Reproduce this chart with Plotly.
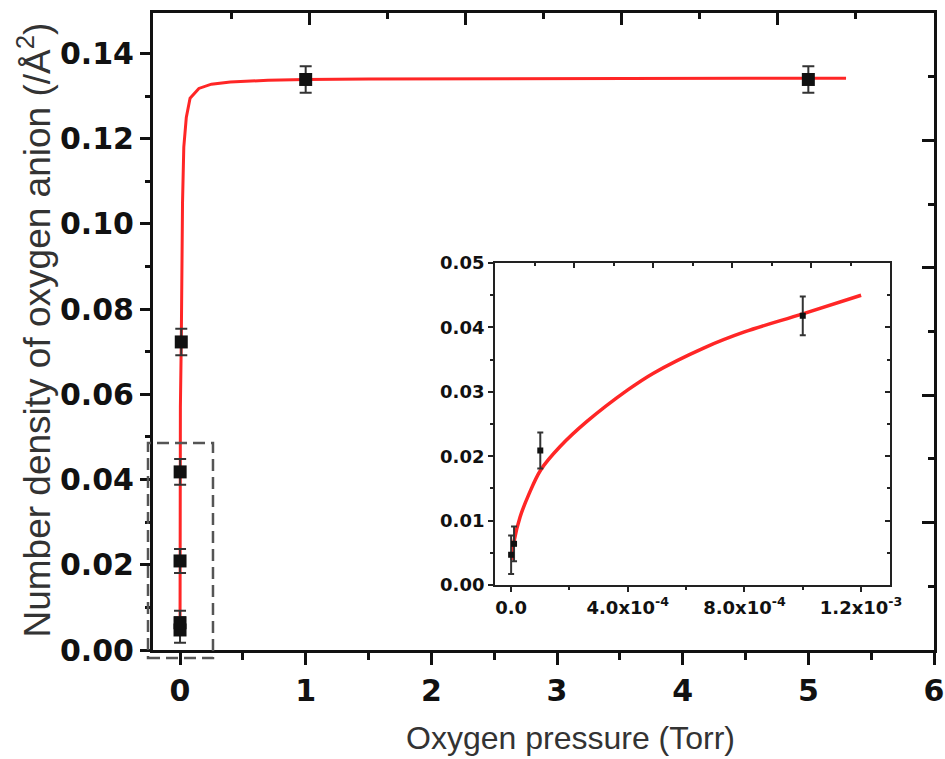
import plotly.graph_objects as go

# ---------------- data ----------------
pressure = [0.0, 1e-5, 1e-4, 1e-3, 1e-2, 1.0, 5.0]
density = [0.0047, 0.0064, 0.0209, 0.0418, 0.0723, 0.1339, 0.1339]
density_err = [0.003, 0.0028, 0.0028, 0.003, 0.0031, 0.0031, 0.0031]

# inset data (low-pressure part)
inset_pressure = [0.0, 1e-5, 1e-4, 1e-3]
inset_density = [0.0047, 0.0064, 0.0209, 0.0418]
inset_err = [0.003, 0.0027, 0.0028, 0.003]

# fitted curve
fit_x_main = [0.0, 1e-4, 1e-3, 3e-3, 0.01, 0.015, 0.02, 0.03, 0.05, 0.08, 0.15,
              0.25, 0.4, 0.7, 1.0, 1.5, 2.5, 3.5, 4.5, 5.3]
fit_y_main = [0.0039, 0.0179, 0.0421, 0.057, 0.0723, 0.092, 0.105, 0.118, 0.125,
              0.1295, 0.1318, 0.1328, 0.1333, 0.1337, 0.1339, 0.134, 0.1341,
              0.1342, 0.1342, 0.1342]

fit_x_inset = [2e-6, 1e-5, 3.1e-5, 6e-5, 1.02e-4, 1.68e-4, 2.6e-4, 4.0e-4, 4.88e-4,
               6.6e-4, 8.0e-4, 1.0e-3, 1.2e-3]
fit_y_inset = [0.0039, 0.0068, 0.0106, 0.0140, 0.0179, 0.0215, 0.0254, 0.0303,
               0.0329, 0.0368, 0.0393, 0.0421, 0.0450]

main_x_ticks = [0, 1, 2, 3, 4, 5, 6]
inset_x_tickvals = [0.0, 4e-4, 8e-4, 1.2e-3]
inset_x_ticktext = ["0.0", "4.0x10<sup>-4</sup>", "8.0x10<sup>-4</sup>", "1.2x10<sup>-3</sup>"]

x_title = "Oxygen pressure (Torr)"
y_title = "Number density of oxygen anion (/Å<sup>2</sup>)"

# ---------------- figure ----------------
RED = "#ff2626"
BLACK = "#111111"
ERR = "#333333"
INS = "#222222"

fig = go.Figure()

# main plot
fig.add_trace(go.Scatter(x=fit_x_main, y=fit_y_main, mode="lines",
                         line=dict(color=RED, width=3), showlegend=False,
                         xaxis="x", yaxis="y"))
fig.add_trace(go.Scatter(x=pressure, y=density, mode="markers",
                         marker=dict(symbol="square", size=13, color=BLACK),
                         error_y=dict(type="data", array=density_err, visible=True,
                                      color=ERR, thickness=2, width=6),
                         showlegend=False, xaxis="x", yaxis="y"))

# dummy trace for top/right mirrored axes of main plot
fig.add_trace(go.Scatter(x=[], y=[], xaxis="x2", yaxis="y2", showlegend=False))

# inset
fig.add_trace(go.Scatter(x=fit_x_inset, y=fit_y_inset, mode="lines",
                         line=dict(color=RED, width=3.5, shape="spline", smoothing=1),
                         showlegend=False, xaxis="x3", yaxis="y3"))
fig.add_trace(go.Scatter(x=inset_pressure, y=inset_density, mode="markers",
                         marker=dict(symbol="square", size=6, color=BLACK),
                         error_y=dict(type="data", array=inset_err, visible=True,
                                      color=ERR, thickness=2, width=3),
                         showlegend=False, xaxis="x3", yaxis="y3"))
fig.add_trace(go.Scatter(x=[], y=[], xaxis="x4", yaxis="y4", showlegend=False))

main_tick_font = dict(family="DejaVu Sans", size=30, color=BLACK, weight="bold")
inset_tick_font = dict(family="DejaVu Sans", size=18, color=BLACK, weight="bold")

inset_dom_x = [0.438, 0.944]
inset_dom_y = [0.102, 0.6075]

common = dict(showgrid=False, zeroline=False, automargin=False)

fig.update_layout(
    width=945, height=759,
    margin=dict(l=153, r=11, t=13, b=109),
    paper_bgcolor="white", plot_bgcolor="white",
    showlegend=False,
    xaxis=dict(domain=[0, 1], range=[-0.215, 6], tickvals=main_x_ticks,
               ticks="outside", ticklen=12, tickwidth=2.5, tickcolor=BLACK,
               showline=True, linewidth=3, linecolor=BLACK,
               tickfont=main_tick_font, ticklabelstandoff=0,
               minor=dict(dtick=0.5, tick0=0, ticks="outside", ticklen=7,
                          tickwidth=2.5, tickcolor=BLACK, showgrid=False), **common),
    yaxis=dict(domain=[0, 1], range=[0, 0.1495], dtick=0.02, tick0=0, tickformat=".2f",
               ticks="outside", ticklen=10, tickwidth=2.5, tickcolor=BLACK,
               showline=True, linewidth=3, linecolor=BLACK,
               tickfont=main_tick_font,
               minor=dict(dtick=0.01, tick0=0, ticks="outside", ticklen=5,
                          tickwidth=2.5, tickcolor=BLACK, showgrid=False), **common),
    xaxis2=dict(overlaying="x", side="top", anchor="y2", range=[0, 5], dtick=1, tick0=0,
                ticks="inside", ticklen=12, tickwidth=2.5, tickcolor=BLACK,
                showline=True, linewidth=3, linecolor=BLACK, showticklabels=False,
                minor=dict(dtick=0.5, tick0=0, ticks="inside", ticklen=6,
                           tickwidth=2.5, tickcolor=BLACK, showgrid=False), **common),
    yaxis2=dict(overlaying="y", side="right", anchor="x2", range=[0, 5], dtick=1, tick0=0,
                ticks="inside", ticklen=12, tickwidth=2.5, tickcolor=BLACK,
                showline=True, linewidth=3, linecolor=BLACK, showticklabels=False,
                minor=dict(dtick=0.5, tick0=0, ticks="inside", ticklen=6,
                           tickwidth=2.5, tickcolor=BLACK, showgrid=False), **common),
    xaxis3=dict(domain=inset_dom_x, anchor="y3", range=[-0.55e-4, 1.3e-3],
                tickvals=inset_x_tickvals, ticktext=inset_x_ticktext,
                ticks="outside", ticklen=5, tickwidth=2, tickcolor=INS,
                showline=True, linewidth=2, linecolor=INS,
                tickfont=inset_tick_font,
                minor=dict(dtick=2e-4, tick0=0, ticks="outside", ticklen=3,
                           tickwidth=2, tickcolor=INS, showgrid=False), **common),
    yaxis3=dict(domain=inset_dom_y, anchor="x3", range=[0, 0.05], dtick=0.01, tick0=0,
                tickformat=".2f",
                ticks="outside", ticklen=5, tickwidth=2, tickcolor=INS,
                showline=True, linewidth=2, linecolor=INS,
                tickfont=inset_tick_font,
                minor=dict(dtick=0.005, tick0=0, ticks="outside", ticklen=3,
                           tickwidth=2, tickcolor=INS, showgrid=False), **common),
    xaxis4=dict(overlaying="x3", side="top", anchor="y4", range=[0, 5], dtick=1, tick0=0,
                ticks="inside", ticklen=5, tickwidth=2, tickcolor=INS,
                showline=True, linewidth=2, linecolor=INS, showticklabels=False,
                minor=dict(dtick=0.5, tick0=0, ticks="inside", ticklen=3,
                           tickwidth=2, tickcolor=INS, showgrid=False), **common),
    yaxis4=dict(overlaying="y3", side="right", anchor="x4", range=[0, 5], dtick=1, tick0=0,
                ticks="inside", ticklen=5, tickwidth=2, tickcolor=INS,
                showline=True, linewidth=2, linecolor=INS, showticklabels=False,
                minor=dict(dtick=0.5, tick0=0, ticks="inside", ticklen=3,
                           tickwidth=2, tickcolor=INS, showgrid=False), **common),
)

# dashed zoom rectangle around the low-pressure points
fig.add_shape(type="rect", xref="paper", yref="paper",
              x0=-0.0064, x1=0.0768, y0=-0.0126, y1=0.325,
              line=dict(color="#555555", width=2.5, dash="12px,6px"),
              fillcolor="rgba(0,0,0,0)", layer="above")

# axis titles
fig.add_annotation(text=x_title, xref="paper", yref="paper", x=0.535, y=-0.138,
                   xanchor="center", yanchor="middle", showarrow=False,
                   font=dict(family="Liberation Sans", size=32, color="#333333"))
fig.add_annotation(text=y_title, xref="paper", yref="paper", x=-0.152, y=0.502,
                   xanchor="center", yanchor="middle", showarrow=False, textangle=-90,
                   font=dict(family="Liberation Sans", size=37, color="#333333"))

fig.write_html("out.html",
               config={"displayModeBar": False},
               post_script="document.body.style.margin='0px';"
                           "document.body.style.overflow='hidden';")
